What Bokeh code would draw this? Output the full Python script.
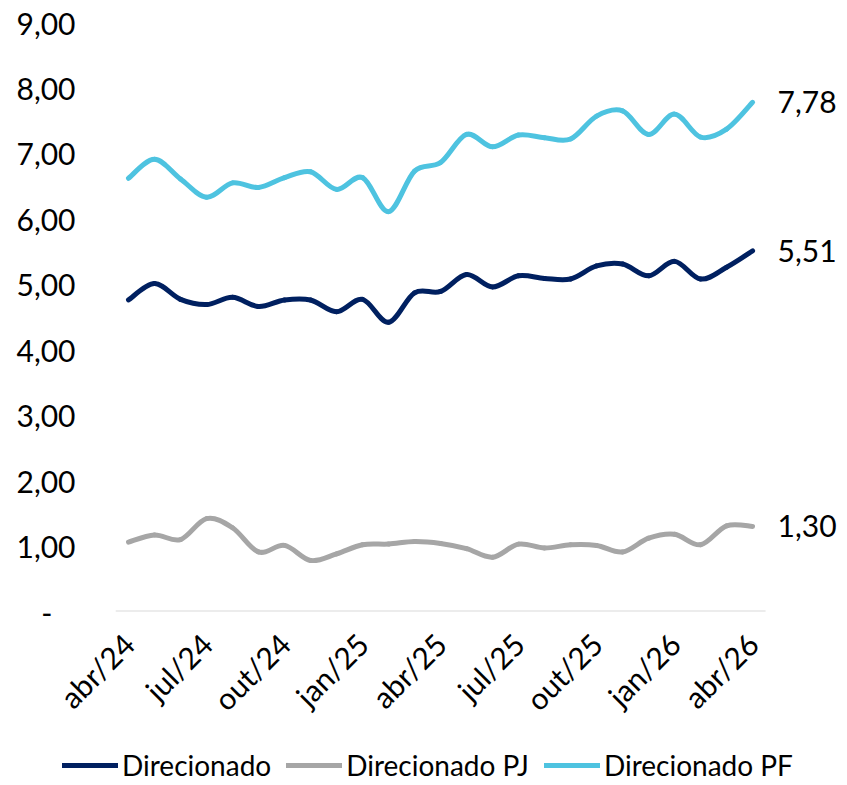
import math
from bokeh.plotting import figure
from bokeh.models import FixedTicker, Legend, LegendItem
from bokeh.core.properties import value
from bokeh.embed import file_html
from bokeh.resources import INLINE

meses = ["abr/24", "mai/24", "jun/24", "jul/24", "ago/24", "set/24", "out/24", "nov/24", "dez/24",
         "jan/25", "fev/25", "mar/25", "abr/25", "mai/25", "jun/25", "jul/25", "ago/25", "set/25",
         "out/25", "nov/25", "dez/25", "jan/26", "fev/26", "mar/26", "abr/26"]

direcionado = [4.76, 5.01, 4.77, 4.69, 4.80, 4.66, 4.76, 4.76, 4.58, 4.77, 4.42, 4.87, 4.89,
               5.15, 4.96, 5.13, 5.09, 5.08, 5.28, 5.31, 5.13, 5.35, 5.08, 5.26, 5.51]
direcionado_pj = [1.06, 1.17, 1.10, 1.42, 1.28, 0.91, 1.01, 0.78, 0.88, 1.02, 1.03, 1.07, 1.04,
                  0.96, 0.83, 1.03, 0.97, 1.02, 1.01, 0.91, 1.12, 1.18, 1.02, 1.31, 1.30]
direcionado_pf = [6.62, 6.91, 6.61, 6.33, 6.55, 6.48, 6.63, 6.72, 6.45, 6.63, 6.11, 6.73, 6.86,
                  7.29, 7.10, 7.28, 7.24, 7.22, 7.57, 7.65, 7.29, 7.60, 7.25, 7.37, 7.78]

y_ticks = [0, 1, 2, 3, 4, 5, 6, 7, 8, 9]

series = [
    ("Direcionado", direcionado, "#002060"),
    ("Direcionado PJ", direcionado_pj, "#A6A6A6"),
    ("Direcionado PF", direcionado_pf, "#4EC3E0"),
]

FONT = "Lato"
FS = "30px"
LFS = "28px"
n = len(meses)

p = figure(width=847, height=745, output_backend="svg", toolbar_location=None,
           x_range=(-0.5, n - 0.5 + 3.15), y_range=(0, 9),
           min_border_left=115, min_border_right=0, min_border_top=22, min_border_bottom=134)
p.outline_line_color = None
p.grid.visible = False
p.background_fill_color = "white"
p.border_fill_color = "white"

# category axis line (spans the category area only)
p.segment(x0=[-0.5], y0=[0], x1=[n - 0.5], y1=[0], line_color="#D9D9D9", line_width=2)


def smooth_segments(ys):
    xs = list(range(len(ys)))
    m = len(ys)
    seg = dict(x0=[], y0=[], x1=[], y1=[], cx0=[], cy0=[], cx1=[], cy1=[])
    for i in range(m - 1):
        pm = max(i - 1, 0)
        pp = min(i + 2, m - 1)
        seg["x0"].append(xs[i]); seg["y0"].append(ys[i])
        seg["x1"].append(xs[i + 1]); seg["y1"].append(ys[i + 1])
        seg["cx0"].append(xs[i] + (xs[i + 1] - xs[pm]) / 6)
        seg["cy0"].append(ys[i] + (ys[i + 1] - ys[pm]) / 6)
        seg["cx1"].append(xs[i + 1] - (xs[pp] - xs[i]) / 6)
        seg["cy1"].append(ys[i + 1] - (ys[pp] - ys[i]) / 6)
    return seg


for name, ys, color in series:
    p.bezier(line_color=color, line_width=5, line_cap="round", **smooth_segments(ys))
    p.text(x=[len(ys) - 1], y=[ys[-1]], text=[f"{ys[-1]:.2f}".replace(".", ",")],
           x_offset=25, text_baseline="middle", text_align="left",
           text_font=value(FONT), text_font_size=FS, text_color="#000000")

# axes
xa = p.xaxis[0]
xa.ticker = FixedTicker(ticks=list(range(0, n, 3)))
xa.major_label_overrides = {i: meses[i] for i in range(0, n, 3)}
xa.major_label_orientation = math.pi / 4
xa.axis_line_color = None
xa.major_tick_line_color = None
xa.minor_tick_line_color = None
xa.major_label_text_font = FONT
xa.major_label_text_font_size = FS
xa.major_label_text_color = "#000000"
xa.major_label_standoff = 21

ya = p.yaxis[0]
ya.ticker = FixedTicker(ticks=y_ticks)
ya.major_label_overrides = {t: ("-\u00a0\u00a0\u00a0" if t == 0 else f"{t:.2f}".replace(".", ",")) for t in y_ticks}
ya.axis_line_color = None
ya.major_tick_line_color = None
ya.minor_tick_line_color = None
ya.major_label_text_font = FONT
ya.major_label_text_font_size = FS
ya.major_label_text_color = "#000000"
ya.major_label_standoff = 34

# legend strip below the chart (separate root so its frame spans the full width)
lg = figure(width=847, height=40, output_backend="svg", toolbar_location=None,
            x_axis_type=None, y_axis_type=None, x_range=(0, 1), y_range=(0, 1),
            min_border=0, min_border_left=0, min_border_right=0, min_border_top=0, min_border_bottom=0)
lg.outline_line_color = None
lg.grid.visible = False
lg.background_fill_color = "white"
lg.border_fill_color = "white"
items = []
for name, ys, color in series:
    r = lg.line(x=[-2, -1], y=[-2, -2], line_color=color, line_width=5, line_cap="round")
    items.append(LegendItem(label=name, renderers=[r]))
legend = Legend(items=items, orientation="horizontal", location=(62, 3),
                label_text_font=FONT, label_text_font_size=LFS, label_text_color="#000000",
                glyph_width=56, glyph_height=34, label_height=34, label_standoff=4, spacing=15,
                padding=0, margin=0, border_line_color=None, background_fill_alpha=0)
lg.add_layout(legend)

open("out.html", "w").write(file_html([p, lg], INLINE))
